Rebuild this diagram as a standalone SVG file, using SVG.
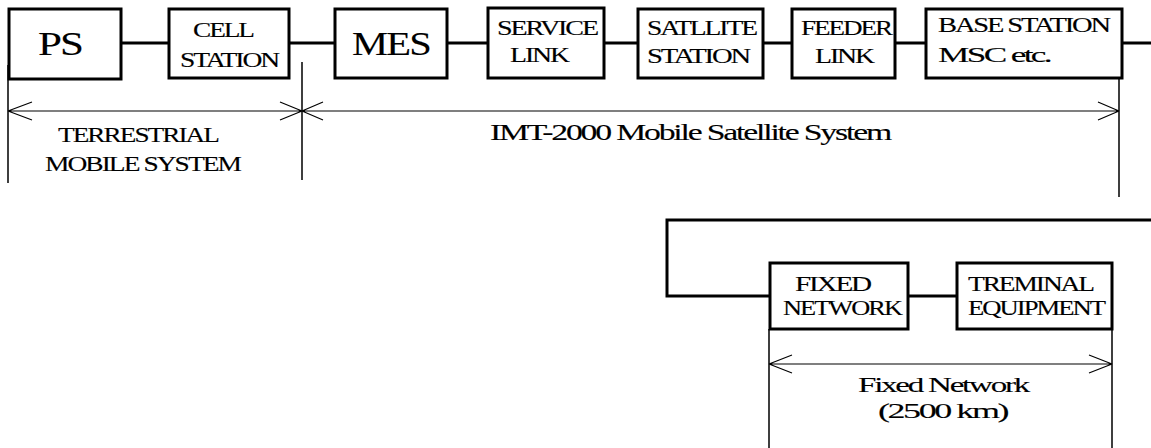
<svg xmlns="http://www.w3.org/2000/svg" width="1151" height="448" viewBox="0 0 1151 448">
<style>
.box{fill:#fff;stroke:#000;stroke-width:3}
.con{fill:none;stroke:#000;stroke-width:3}
.dim{fill:none;stroke:#000;stroke-width:1.2}
.ext{fill:none;stroke:#000;stroke-width:1.5}
</style>
<rect width="1151" height="448" fill="#fff"/>
<g id="connectors">
<path class="con" d="M121 43H169M289 43H335M447 43H488M604 43H638M763 43H792M895 43H926M1122 43H1151"/>
<path class="con" d="M1151 220H667V296H770M908 296H957"/>
</g>
<g id="dimensions">
<path class="ext" d="M8 65V183M302 62V180M1119 78V197M769 329V448M1112 329V448"/>
<path class="dim" d="M8 111H1119M8 111L32 102M8 111L32 120M302 111L280 102M302 111L280 120M302 111L323 102M302 111L323 120M1119 111L1098 102M1119 111L1098 120"/>
<path class="dim" d="M769 364H1112M769 364L792 355M769 364L792 373M1112 364L1089 355M1112 364L1089 373"/>
</g>
<g font-family="'Liberation Serif', serif" fill="#000" font-size="20" letter-spacing="-1.5" stroke="#000" stroke-width="0.12">
<g id="ps"><rect class="box" x="9" y="9" width="112" height="70"/><text font-size="33" x="38" y="55" textLength="44" lengthAdjust="spacingAndGlyphs">PS</text></g>
<g id="cell-station"><rect class="box" x="169" y="9" width="120" height="69"/><text x="193" y="37" textLength="60" lengthAdjust="spacingAndGlyphs">CELL</text><text x="180" y="67" textLength="98" lengthAdjust="spacingAndGlyphs">STATION</text></g>
<g id="mes"><rect class="box" x="335" y="9" width="112" height="69"/><text font-size="34" x="352" y="55" textLength="78" lengthAdjust="spacingAndGlyphs">MES</text></g>
<g id="service-link"><rect class="box" x="488" y="8" width="116" height="70"/><text x="497" y="35" textLength="100" lengthAdjust="spacingAndGlyphs">SERVICE</text><text x="510" y="62" textLength="58" lengthAdjust="spacingAndGlyphs">LINK</text></g>
<g id="satellite-station"><rect class="box" x="638" y="9" width="125" height="69"/><text x="647" y="35" textLength="109" lengthAdjust="spacingAndGlyphs">SATLLITE</text><text x="647" y="63" textLength="102" lengthAdjust="spacingAndGlyphs">STATION</text></g>
<g id="feeder-link"><rect class="box" x="792" y="9" width="103" height="69"/><text x="801" y="35" textLength="90" lengthAdjust="spacingAndGlyphs">FEEDER</text><text x="815" y="63" textLength="58" lengthAdjust="spacingAndGlyphs">LINK</text></g>
<g id="base-station"><rect class="box" x="926" y="9" width="196" height="69"/><text x="938" y="32" textLength="171" lengthAdjust="spacingAndGlyphs">BASE STATION</text><text x="938" y="62" textLength="112" lengthAdjust="spacingAndGlyphs">MSC etc.</text></g>
<g id="fixed-network"><rect class="box" x="770" y="263" width="138" height="66"/><text x="795" y="291" textLength="75" lengthAdjust="spacingAndGlyphs">FIXED</text><text x="783" y="315" textLength="118" lengthAdjust="spacingAndGlyphs">NETWORK</text></g>
<g id="terminal-equipment"><rect class="box" x="957" y="263" width="155" height="66"/><text x="968" y="291" textLength="125" lengthAdjust="spacingAndGlyphs">TREMINAL</text><text x="968" y="315" textLength="136" lengthAdjust="spacingAndGlyphs">EQUIPMENT</text></g>
<g id="labels">
<text font-size="21" x="58" y="142" textLength="160" lengthAdjust="spacingAndGlyphs">TERRESTRIAL</text>
<text font-size="21" x="45" y="171" textLength="195" lengthAdjust="spacingAndGlyphs">MOBILE SYSTEM</text>
<text font-size="23" x="490" y="140" textLength="400" lengthAdjust="spacingAndGlyphs">IMT-2000 Mobile Satellite System</text>
<text font-size="22" x="858" y="392" textLength="170" lengthAdjust="spacingAndGlyphs">Fixed Network</text>
<text font-size="22" x="878" y="418" textLength="129" lengthAdjust="spacingAndGlyphs">(2500 km)</text>
</g>
</g>
</svg>
